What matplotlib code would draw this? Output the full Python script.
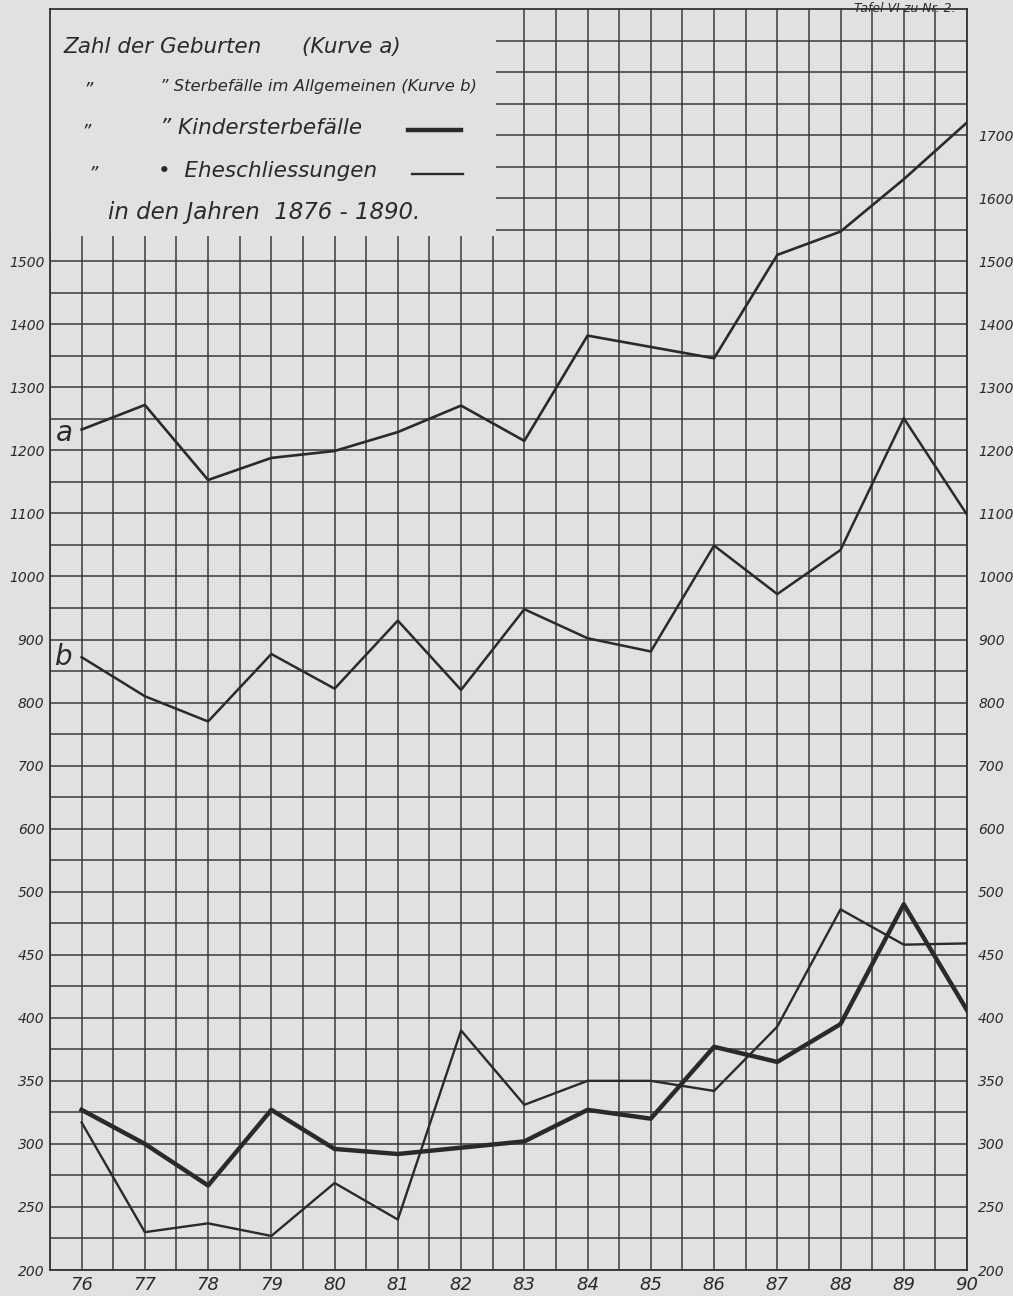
import numpy as np
import matplotlib
matplotlib.use("Agg")
import matplotlib.pyplot as plt
from matplotlib.patches import Rectangle
from matplotlib.lines import Line2D

# ---------------- data ----------------
years = [76, 77, 78, 79, 80, 81, 82, 83, 84, 85, 86, 87, 88, 89, 90]
year_labels = ["76", "77", "78", "79", "80", "81", "82", "83", "84", "85",
               "86", "87", "88", "89", "90"]
geburten = [1233, 1272, 1153, 1188, 1199, 1229, 1271, 1215, 1382, 1364,
            1346, 1510, 1547, 1630, 1720]
sterbefaelle = [872, 810, 770, 877, 822, 930, 820, 948, 902, 881,
                1049, 972, 1042, 1251, 1098]
kindersterbefaelle = [327, 300, 267, 327, 296, 292, 297, 302, 327, 320,
                      377, 365, 395, 490, 406]
eheschliessungen = [317, 230, 237, 227, 269, 240, 390, 331, 350, 350,
                    342, 393, 486, 458, 459]
y_ticks = [200, 250, 300, 350, 400, 450, 500, 600, 700, 800, 900, 1000,
           1100, 1200, 1300, 1400, 1500, 1600, 1700]
left_tick_labels = ["200", "250", "300", "350", "400", "450", "500", "600",
                    "700", "800", "900", "1000", "1100", "1200", "1300",
                    "1400", "1500", "", ""]
right_tick_labels = ["200", "250", "300", "350", "400", "450", "500", "600",
                     "700", "800", "900", "1000", "1100", "1200", "1300",
                     "1400", "1500", "1600", "1700"]

# ---------------- piecewise scale (50 per step below 500, 100 above) ----
def fwd(v):
    v = np.asarray(v, dtype=float)
    return np.where(v <= 500, (v - 200) / 50.0, 6 + (v - 500) / 100.0)

def inv(i):
    i = np.asarray(i, dtype=float)
    return np.where(i <= 6, 200 + 50 * i, 500 + 100 * (i - 6))

BG = "#e1e1df"
INK = "#2a2a2a"

plt.rcParams["font.family"] = ["DejaVu Sans"]
fig = plt.figure(figsize=(10.13, 12.96), dpi=100, facecolor=BG)
ax = fig.add_axes([50 / 1013, 26 / 1296, 917 / 1013, 1261 / 1296])
ax.set_facecolor(BG)
ax.set_yscale("function", functions=(fwd, inv))
ax.set_xlim(75.5, 90)
ax.set_ylim(200, 1900)

# grid lines (every half step)
minor_y = [225, 275, 325, 375, 425, 475, 550, 650, 750, 850, 950, 1050,
           1150, 1250, 1350, 1450, 1550, 1650, 1750, 1800, 1850]
ax.set_yticks(y_ticks)
ax.set_yticks(minor_y, minor=True)
ax.set_xticks(years)
ax.set_xticks(np.arange(75.5, 90.01, 0.5), minor=True)
ax.grid(True, which="both", color="#3a3a3a", linewidth=1.1)
ax.set_axisbelow(True)

ax.set_yticklabels(left_tick_labels, fontsize=10, style="italic", color=INK)
ax.set_xticklabels(year_labels, fontsize=13, style="italic", color=INK)
ax.tick_params(axis="both", which="both", length=0)
ax.tick_params(axis="x", pad=4)
ax.tick_params(axis="y", pad=4)
for s in ax.spines.values():
    s.set_color("#333333")
    s.set_linewidth(1.3)

# right-hand labels
ax2 = ax.twinx()
ax2.set_yscale("function", functions=(fwd, inv))
ax2.set_ylim(200, 1900)
ax2.set_yticks(y_ticks)
ax2.set_yticklabels(right_tick_labels, fontsize=10, style="italic", color=INK)
ax2.tick_params(axis="y", length=0, pad=8)
for s in ax2.spines.values():
    s.set_visible(False)

# curves
ax.plot(years, geburten, color=INK, lw=1.9, zorder=3)
ax.plot(years, sterbefaelle, color=INK, lw=1.8, zorder=3)
ax.plot(years, kindersterbefaelle, color=INK, lw=3.2, zorder=3)
ax.plot(years, eheschliessungen, color=INK, lw=1.7, zorder=3)

ax.text(75.72, 1228, "a", fontsize=20, style="italic", color=INK,
        ha="center", va="center", zorder=4)
ax.text(75.72, 872, "b", fontsize=20, style="italic", color=INK,
        ha="center", va="center", zorder=4)

# legend box (covers the grid in the upper left)
ax.add_patch(Rectangle((75.5, 1540), 82.55 - 75.5, 1900 - 1540,
                       facecolor=BG, edgecolor="none", zorder=2.5))
tkw = dict(style="italic", color=INK, zorder=5, transform=None)
def fx(px):
    return px / 1013
def fy(py):
    return 1 - py / 1296

def ftext(px, py, s, size, ha="left"):
    fig.text(fx(px), fy(py), s, fontsize=size, ha=ha, va="center",
             style="italic", color=INK, zorder=5)

ftext(63, 47, "Zahl der Geburten", 15.5)
ftext(302, 47, "(Kurve a)", 15.5)
ftext(88, 90, "\u201d", 13, ha="center")
ftext(160, 87, "\u201d Sterbefälle im Allgemeinen (Kurve b)", 11.8)
ftext(86, 132, "\u201d", 13, ha="center")
ftext(160, 128, "\u201d Kindersterbefälle", 15.5)
ftext(93, 174, "\u201d", 13, ha="center")
ftext(158, 171, "\u2022  Eheschliessungen", 15.5)
ftext(108, 212, "in den Jahren  1876 - 1890.", 16.5)
fig.add_artist(Line2D([fx(408), fx(461)], [fy(130), fy(130)],
                      color=INK, lw=3.2))
fig.add_artist(Line2D([fx(412), fx(463)], [fy(174), fy(174)],
                      color=INK, lw=1.7))

fig.text(fx(905), fy(8), "Tafel VI zu Nr. 2.", fontsize=9, style="italic",
         color=INK, ha="center", va="center")

fig.savefig("out.png", dpi=100, facecolor=BG)
